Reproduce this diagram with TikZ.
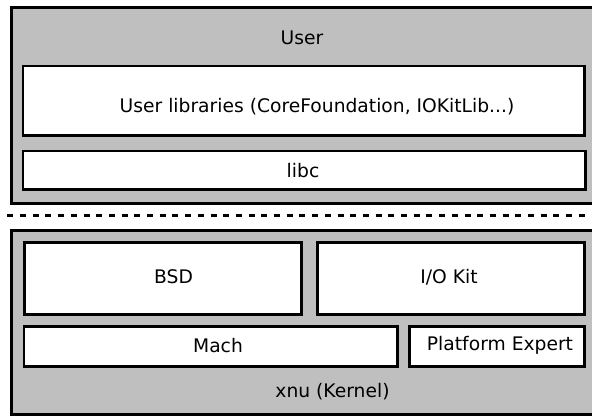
\documentclass[tikz,border=0pt]{standalone}
\usepackage{fontspec}
\setmainfont{DejaVu Sans}

\begin{document}
\begin{tikzpicture}[x=1pt,y=-1pt,
  layer/.style={rectangle,draw=black,fill=black!25,line width=3pt,anchor=north west,inner sep=0pt},
  block/.style={rectangle,draw=black,fill=white,line width=2.8pt,anchor=north west,inner sep=0pt},
  tag/.style={anchor=base,inner sep=0pt,font=\fontsize{18.7}{22}\selectfont}]
\useasboundingbox (0,0) rectangle (592,416);
% user space
\node at (9.7, 6.3) (user) [layer,minimum width=600,minimum height=195.2] {};
\node at (21.5, 64.5) (userlib) [block,minimum width=561.5,minimum height=69.5] {};
\node at (21.5,149.5) (libc) [block,minimum width=562.5,minimum height=38.5] {};
\node at (302, 44) (usertag) [tag] {User};
\node at (317,112) (userlibtag) [tag] {User libraries (CoreFoundation, IOKitLib...)};
\node at (303,177) (libctag) [tag] {libc};
% boundary
\draw [line width=3pt,dash pattern=on 6pt off 6.7pt] (7.3,215) -- (592,215);
% kernel
\node at (10,228.7) (kernel) [layer,minimum width=600,minimum height=184.3] {};
\node at (23,240.7) (bsd) [block,minimum width=277.3,minimum height=72.3] {};
\node at (316.3,240.7) (iokit) [block,minimum width=266.7,minimum height=72.3] {};
\node at (22.5,325.3) (mach) [block,minimum width=373.8,minimum height=40] {};
\node at (408,324.7) (pexpert) [block,minimum width=175.3,minimum height=40] {};
\node at (173.5,283) (bsdtag) [tag] {BSD};
\node at (449,283) (iokittag) [tag] {I/O Kit};
\node at (218,352) (machtag) [tag] {Mach};
\node at (500,350) (pexperttag) [tag] {Platform Expert};
\node at (332.5,397) (kerneltag) [tag] {xnu (Kernel)};
\end{tikzpicture}
\end{document}
